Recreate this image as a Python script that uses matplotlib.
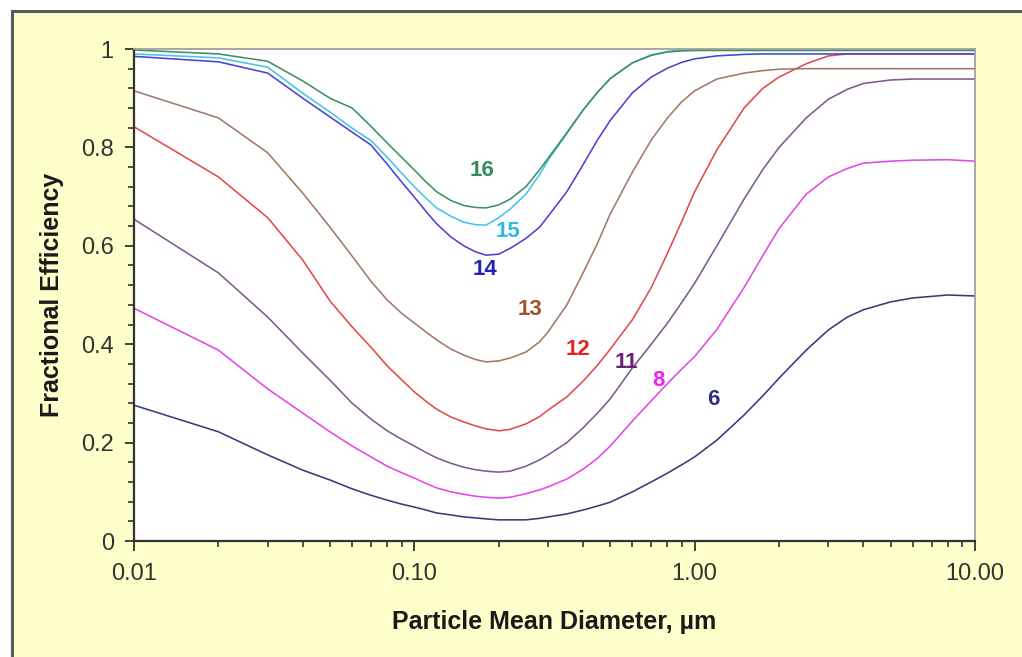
import matplotlib
matplotlib.use("Agg")
import matplotlib.pyplot as plt
from matplotlib.patches import Rectangle
from matplotlib.lines import Line2D
from matplotlib.ticker import FixedLocator, FixedFormatter, NullFormatter, MultipleLocator

plt.rcParams['font.family'] = ['Liberation Sans', 'DejaVu Sans']

# ---- data ----
diameter = [0.01, 0.02, 0.03, 0.04, 0.05,
            0.06, 0.07, 0.08, 0.09, 0.1,
            0.11, 0.12, 0.135, 0.15, 0.165,
            0.18, 0.2, 0.22, 0.25, 0.28,
            0.3, 0.35, 0.4, 0.45, 0.5,
            0.6, 0.7, 0.8, 0.9, 1.0,
            1.2, 1.5, 1.75, 2, 2.5,
            3, 3.5, 4, 5, 6,
            8, 10]

eff_16 = [0.998, 0.99, 0.975, 0.935, 0.90,
          0.88, 0.843, 0.809, 0.78, 0.754,
          0.73, 0.71, 0.692, 0.682, 0.678,
          0.677, 0.683, 0.695, 0.72, 0.755,
          0.778, 0.83, 0.876, 0.912, 0.94,
          0.972, 0.987, 0.994, 0.996, 0.997,
          0.997, 0.997, 0.997, 0.997, 0.997,
          0.997, 0.997, 0.997, 0.997, 0.997,
          0.997, 0.997]
eff_15 = [0.99, 0.982, 0.963, 0.91, 0.872,
          0.839, 0.814, 0.78, 0.748, 0.72,
          0.697, 0.677, 0.66, 0.648, 0.643,
          0.642, 0.657, 0.675, 0.705, 0.745,
          0.774, 0.828, 0.876, 0.912, 0.94,
          0.972, 0.988, 0.995, 0.998, 0.999,
          0.999, 0.999, 0.999, 0.999, 0.999,
          0.999, 0.999, 0.999, 0.999, 0.999,
          0.999, 0.999]
eff_14 = [0.985, 0.974, 0.951, 0.90, 0.862,
          0.831, 0.805, 0.766, 0.73, 0.699,
          0.67, 0.645, 0.618, 0.60, 0.588,
          0.581, 0.583, 0.595, 0.615, 0.638,
          0.66, 0.71, 0.765, 0.815, 0.855,
          0.911, 0.943, 0.961, 0.973, 0.98,
          0.986, 0.989, 0.99, 0.99, 0.99,
          0.99, 0.99, 0.99, 0.99, 0.99,
          0.99, 0.99]
eff_13 = [0.915, 0.86, 0.789, 0.707, 0.638,
          0.579, 0.528, 0.49, 0.463, 0.443,
          0.425, 0.409, 0.39, 0.378, 0.369,
          0.364, 0.366, 0.372, 0.384, 0.405,
          0.425, 0.48, 0.545, 0.605, 0.665,
          0.75, 0.815, 0.86, 0.893, 0.915,
          0.939, 0.951, 0.956, 0.959, 0.96,
          0.96, 0.96, 0.96, 0.96, 0.96,
          0.96, 0.96]
eff_12 = [0.842, 0.74, 0.657, 0.571, 0.488,
          0.435, 0.394, 0.356, 0.328, 0.303,
          0.284, 0.268, 0.252, 0.242, 0.234,
          0.228, 0.224, 0.227, 0.238, 0.253,
          0.266, 0.293, 0.325, 0.357, 0.39,
          0.45, 0.515, 0.585, 0.65, 0.71,
          0.795, 0.88, 0.92, 0.943, 0.97,
          0.986, 0.99, 0.99, 0.99, 0.99,
          0.99, 0.99]
eff_11 = [0.654, 0.545, 0.455, 0.382, 0.327,
          0.28, 0.248, 0.224, 0.207, 0.193,
          0.18, 0.169, 0.158, 0.15, 0.145,
          0.142, 0.14, 0.142, 0.152, 0.165,
          0.175, 0.20, 0.23, 0.26, 0.289,
          0.352, 0.40, 0.443, 0.485, 0.524,
          0.60, 0.695, 0.755, 0.80, 0.86,
          0.898, 0.918, 0.93, 0.937, 0.939,
          0.939, 0.939]
eff_8 = [0.473, 0.388, 0.309, 0.26, 0.222,
         0.193, 0.171, 0.152, 0.139, 0.128,
         0.117, 0.108, 0.10, 0.095, 0.091,
         0.089, 0.087, 0.089, 0.096, 0.104,
         0.11, 0.126, 0.146, 0.168, 0.193,
         0.244, 0.285, 0.32, 0.35, 0.375,
         0.43, 0.515, 0.58, 0.635, 0.705,
         0.74, 0.757, 0.768, 0.772, 0.774,
         0.775, 0.772]
eff_6 = [0.276, 0.222, 0.175, 0.144, 0.124,
         0.106, 0.093, 0.083, 0.075, 0.069,
         0.063, 0.057, 0.053, 0.049, 0.047,
         0.045, 0.043, 0.043, 0.043, 0.046,
         0.049, 0.055, 0.063, 0.071, 0.079,
         0.10, 0.12, 0.138, 0.155, 0.171,
         0.205, 0.256, 0.295, 0.331, 0.388,
         0.429, 0.455, 0.47, 0.486, 0.494,
         0.50, 0.498]

series_names = ["6", "8", "11", "12", "13", "14", "15", "16"]
series_values = [eff_6, eff_8, eff_11, eff_12, eff_13, eff_14, eff_15, eff_16]
line_colors = ["#3A3A78", "#E448E4", "#7E5A8E", "#E24A4A", "#A27868", "#4A42D4", "#48C4E4", "#3E9060"]
label_colors = ["#2E2E80", "#EE22EE", "#6A1E78", "#E02424", "#A0502A", "#2222B4", "#30B8DC", "#358A5A"]
label_x = [1.163, 0.740, 0.569, 0.384, 0.259, 0.179, 0.216, 0.174]
label_y = [0.287, 0.327, 0.362, 0.390, 0.470, 0.551, 0.630, 0.754]

x_ticks = [0.01, 0.1, 1, 10]
x_ticklabels = ["0.01", "0.10", "1.00", "10.00"]
y_ticks = [0, 0.2, 0.4, 0.6, 0.8, 1.0]
y_ticklabels = ["0", "0.2", "0.4", "0.6", "0.8", "1"]

# ---- figure ----
W, H = 1022, 657
fig = plt.figure(figsize=(W / 100, H / 100), dpi=100, facecolor="white")

fx = lambda px: px / W
fy = lambda py: 1 - py / H

fig.patches.append(Rectangle((fx(12), 0), 1 - fx(12), fy(11), transform=fig.transFigure,
                             facecolor="#FFFFCC", edgecolor="none", zorder=-5))
fig.lines.append(Line2D([fx(12), 1], [fy(11), fy(11)], transform=fig.transFigure,
                        color="#5A5A5A", lw=2.2, zorder=-4))
fig.lines.append(Line2D([fx(12), fx(12)], [0, fy(11)], transform=fig.transFigure,
                        color="#5A5A5A", lw=2.2, zorder=-4))

ax = fig.add_axes([fx(134), fy(541), fx(975) - fx(134), fy(49) - fy(541)])
ax.set_zorder(2)
ax.set_facecolor("white")

for name, vals, lc in zip(series_names, series_values, line_colors):
    ax.plot(diameter, vals, color=lc, lw=1.15, solid_joinstyle="round")

for name, lx, ly, tc in zip(series_names, label_x, label_y, label_colors):
    ax.text(lx, ly, name, color=tc, fontsize=16, fontweight="bold", ha="center", va="center")

ax.set_xscale("log")
ax.set_xlim(0.01, 10)
ax.set_ylim(0, 1)

ax.xaxis.set_major_locator(FixedLocator(x_ticks))
ax.xaxis.set_major_formatter(FixedFormatter(x_ticklabels))
ax.xaxis.set_minor_formatter(NullFormatter())
ax.yaxis.set_major_locator(FixedLocator(y_ticks))
ax.yaxis.set_major_formatter(FixedFormatter(y_ticklabels))
ax.yaxis.set_minor_locator(MultipleLocator(0.04))

ax.tick_params(axis="both", which="major", direction="out", color="#333333", width=1.3,
               labelsize=17, labelcolor="#333333")
ax.tick_params(axis="x", which="major", length=7.5, pad=8)
ax.tick_params(axis="y", which="major", length=6.5, pad=8)
ax.tick_params(axis="both", which="minor", direction="out", length=4, width=1.2, color="#333333")

for s in ["left", "bottom"]:
    ax.spines[s].set_color("#333333")
    ax.spines[s].set_linewidth(1.6)
for s in ["top", "right"]:
    ax.spines[s].set_color("#A0A0A0")
    ax.spines[s].set_linewidth(1.3)

fig.text(fx(554), fy(622), "Particle Mean Diameter, µm", fontsize=18, fontweight="bold",
         ha="center", va="center", color="#1A1A1A")
fig.text(fx(52), fy(295), "Fractional Efficiency", fontsize=18, fontweight="bold",
         rotation=90, ha="center", va="center", color="#1A1A1A")

fig.savefig("out.png", dpi=100, facecolor="white")
